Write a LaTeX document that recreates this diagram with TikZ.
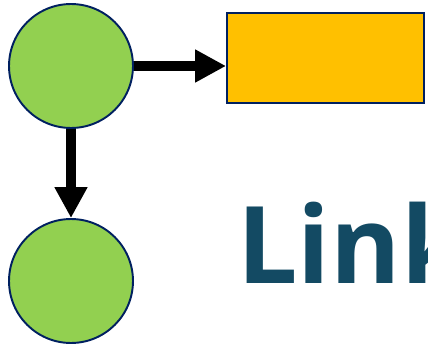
\documentclass[tikz,border=0pt]{standalone}
\usepackage{fontspec}
\newfontfamily\headfont{Open Sans}
\usetikzlibrary{arrows.meta}

\definecolor{cellgreen}{HTML}{92D050}
\definecolor{cellorange}{HTML}{FFC000}
\definecolor{cellborder}{HTML}{002060}
\definecolor{titleblue}{HTML}{134A63}

\tikzset{
    cell/.style={circle, draw=cellborder, fill=cellgreen, line width=1.1pt, minimum size=2.48cm, inner sep=0pt},
    databox/.style={rectangle, draw=cellborder, fill=cellorange, line width=1.1pt, minimum width=3.94cm, minimum height=1.8cm, inner sep=0pt},
    link/.style={line width=6pt, -{Triangle[length=0.62cm, width=0.62cm]}}
}

\begin{document}
\begin{tikzpicture}[x=0.02cm, y=-0.02cm]
    \useasboundingbox (0,0) rectangle (428,344);
    \clip (0,0) rectangle (428,344);

    % Nodes
    \node[cell] (first) at (71,66) {};
    \node[databox] (data) at (325.5,58) {};
    \node[cell] (second) at (71,281) {};

    % Arrows
    \draw[link] (first.east) -- (first.east -| data.west);
    \draw[link] (first.south) -- (second.north);

    % Title
    \node[anchor=base west, inner sep=0pt, text=titleblue, font=\headfont\bfseries\fontsize{61}{61}\selectfont] (title) at (237,283) {Link};
\end{tikzpicture}
\end{document}
